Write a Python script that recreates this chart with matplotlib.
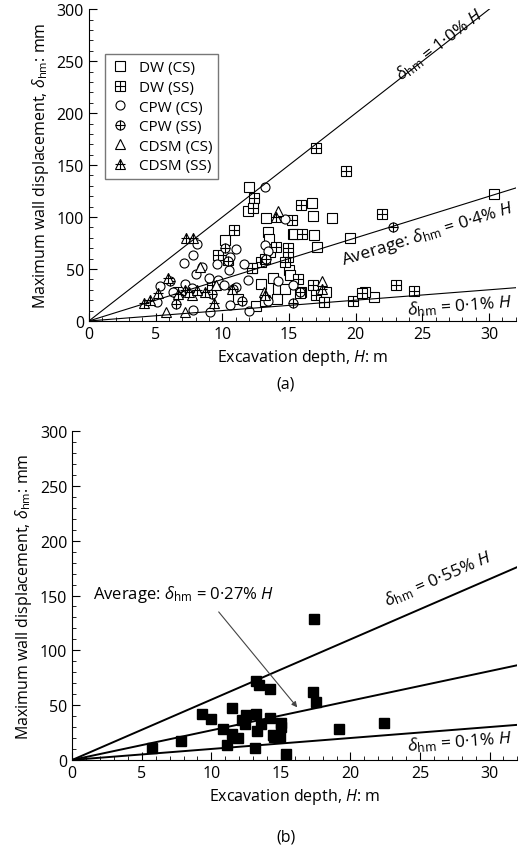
import numpy as np
import matplotlib
matplotlib.use('Agg')
import matplotlib.pyplot as plt

plt.rcParams['font.family'] = ['Open Sans', 'DejaVu Sans']
plt.rcParams['mathtext.fontset'] = 'custom'
plt.rcParams['mathtext.rm'] = 'Open Sans'
plt.rcParams['mathtext.it'] = 'Open Sans:italic'

# panel (a) data: (H m, delta mm)
dw_cs_x = [12.0, 11.9, 13.3, 13.4, 13.5, 16.7, 16.8, 18.2, 15.3, 15.4, 16.9, 17.1, 19.6, 30.4, 10.2, 13.6,
           12.2, 12.9, 13.8, 14.2, 14.1, 12.5, 11.2, 15.0, 15.1, 17.8, 21.4, 20.7, 13.2, 14.7, 15.9]
dw_cs_y = [129, 106, 99, 86, 79, 114, 101, 99, 84, 84, 83, 71, 80, 122, 78, 66,
           51, 36, 41, 31, 21, 14, 21, 49, 44, 28, 23, 28, 19, 31, 28]
dw_ss_x = [17.0, 19.3, 12.4, 12.3, 15.9, 22.0, 10.9, 15.2, 14.0, 14.9, 14.9, 16.0, 12.9, 12.2, 15.7, 16.8,
           17.0, 17.6, 19.8, 20.5, 23.0, 24.4, 9.7, 10.4, 13.2, 14.7, 15.8, 9.2, 6.7]
dw_ss_y = [166, 144, 118, 109, 112, 103, 88, 97, 71, 70, 62, 84, 57, 51, 40, 35,
           25, 18, 19, 27, 35, 29, 63, 59, 60, 57, 27, 35, 28]
cpw_cs_x = [13.2, 14.7, 8.1, 11.0, 7.8, 7.1, 8.5, 8.0, 9.6, 11.6, 10.6, 13.2, 13.4, 9.0, 9.7, 10.5,
            11.9, 11.0, 15.3, 7.2, 5.3, 5.1, 7.8, 9.1, 10.6, 12.0, 13.4, 7.7, 6.3, 10.1, 14.2]
cpw_cs_y = [129, 98, 74, 69, 63, 56, 52, 45, 55, 55, 62, 73, 67, 41, 39, 49,
            39, 33, 35, 36, 34, 18, 11, 9, 15, 10, 19, 32, 28, 35, 38]
cpw_ss_x = [22.8, 10.2, 10.4, 13.3, 15.3, 6.5, 6.1, 9.2, 10.8, 15.8, 11.5]
cpw_ss_y = [90, 70, 58, 60, 17, 16, 38, 26, 31, 28, 19]
cdsm_cs_x = [14.2, 8.3, 5.8, 7.2, 17.5, 13.1, 7.7, 9.5]
cdsm_cs_y = [106, 52, 9, 9, 38, 28, 25, 35]
cdsm_ss_x = [7.3, 7.8, 5.9, 14.0, 17.5, 4.1, 4.6, 5.2, 7.2, 8.7, 9.4, 10.7, 13.2, 6.7, 7.5, 8.1]
cdsm_ss_y = [80, 80, 41, 100, 31, 17, 20, 27, 30, 28, 17, 31, 25, 26, 28, 30]

# panel (b) data
b_x = [5.7, 7.8, 9.3, 10.0, 10.8, 11.5, 11.5, 11.1, 11.9, 12.2, 12.5, 12.4, 13.2, 13.2, 13.4, 13.6,
       13.3, 13.1, 14.2, 14.2, 14.4, 14.5, 14.9, 15.0, 15.0, 15.4, 17.4, 17.3, 17.5, 19.2, 22.4]
b_y = [10.7, 17, 42, 37, 28, 47, 24, 14, 20, 36, 41, 33, 42, 72, 68, 33,
       26, 11, 65, 38, 23, 21, 21, 34, 30, 5.5, 129, 62, 53, 28, 34]

ratios_a = [1.0, 0.4, 0.1]
ratios_b = [0.55, 0.27, 0.1]

fig = plt.figure(figsize=(5.2, 8.54), dpi=100)
ax1 = fig.add_axes([0.171, 0.623, 0.821, 0.365])
ax2 = fig.add_axes([0.139, 0.109, 0.856, 0.385])

mk = dict(ms=6.5, mfc='white', mec='black', mew=0.8, ls='none')
cross = dict(ms=6.5, mec='black', mew=0.8, ls='none')


def series(ax, x, y, shape, label, crossed=False):
    h = ax.plot(x, y, marker=shape, **mk)[0]
    if crossed:
        h2 = ax.plot(x, y, marker='+', **cross)[0]
        return ((h, h2), label)
    return (h, label)


handles = [
    series(ax1, dw_cs_x, dw_cs_y, 's', 'DW (CS)'),
    series(ax1, dw_ss_x, dw_ss_y, 's', 'DW (SS)', True),
    series(ax1, cpw_cs_x, cpw_cs_y, 'o', 'CPW (CS)'),
    series(ax1, cpw_ss_x, cpw_ss_y, 'o', 'CPW (SS)', True),
    series(ax1, cdsm_cs_x, cdsm_cs_y, '^', 'CDSM (CS)'),
    series(ax1, cdsm_ss_x, cdsm_ss_y, '^', 'CDSM (SS)', True),
]

hh = np.array([0, 32])
for r in ratios_a:
    ax1.plot(hh, hh * r * 10, color='black', lw=0.8)
for r in ratios_b:
    ax2.plot(hh, hh * r * 10, color='black', lw=1.4)
ax2.plot(b_x, b_y, marker='s', ms=7, color='black', ls='none')

for ax in (ax1, ax2):
    ax.set_xlim(0, 32)
    ax.set_ylim(0, 300)
    ax.set_xticks(range(0, 31, 5))
    ax.set_xticks(np.arange(0, 32.1, 1), minor=True)
    ax.set_yticks(range(0, 301, 50))
    ax.set_yticks(range(0, 301, 10), minor=True)
    ax.tick_params(which='both', direction='in', top=False, right=False, labelsize=11.5)
    ax.tick_params(which='major', length=6)
    ax.tick_params(which='minor', length=3)
    for s in ('top', 'right'):
        ax.spines[s].set_visible(False)
    ax.set_xlabel('Excavation depth, $\\it{H}$: m', fontsize=11.5)
    ax.set_ylabel('Maximum wall displacement, $\\delta_{\\rm hm}$: mm', fontsize=11.5)

ax1.legend([h for h, _ in handles], [l for _, l in handles], loc='upper left',
           bbox_to_anchor=(0.02, 0.88), fancybox=False, edgecolor='#555555',
           fontsize=11, handletextpad=0.6, borderpad=0.4, labelspacing=0.3, handlelength=1.2)


def line_label(ax, x, y, slope, txt, size=12.5, va='bottom'):
    ang = ax.transData.transform_angles(np.array([np.degrees(np.arctan(slope))]),
                                        np.array([[x, y]]))[0]
    ax.text(x, y, txt, rotation=ang, rotation_mode='anchor', fontsize=size, ha='left', va=va)


line_label(ax1, 23.6, 228, 10, '$\\delta_{\\rm hm}$ = 1·0% $\\it{H}$')
line_label(ax1, 18.7, 68, 4, 'Average: $\\delta_{\\rm hm}$ = 0·4% $\\it{H}$', va='top')
line_label(ax1, 23.8, 21, 1, '$\\delta_{\\rm hm}$ = 0·1% $\\it{H}$', va='top')
line_label(ax2, 22.8, 137, 5.5, '$\\delta_{\\rm hm}$ = 0·55% $\\it{H}$')
line_label(ax2, 24.0, 22, 1, '$\\delta_{\\rm hm}$ = 0·1% $\\it{H}$', va='top')
ax2.annotate('', xy=(16.3, 46), xytext=(10.4, 137),
             arrowprops=dict(arrowstyle='-|>', color='#444444', lw=0.8, mutation_scale=8))
ax2.text(1.5, 148, 'Average: $\\delta_{\\rm hm}$ = 0·27% $\\it{H}$', fontsize=12)

fig.text(0.55, 0.545, '(a)', ha='center', fontsize=11.5)
fig.text(0.55, 0.015, '(b)', ha='center', fontsize=11.5)

fig.savefig('out.png', dpi=100)
